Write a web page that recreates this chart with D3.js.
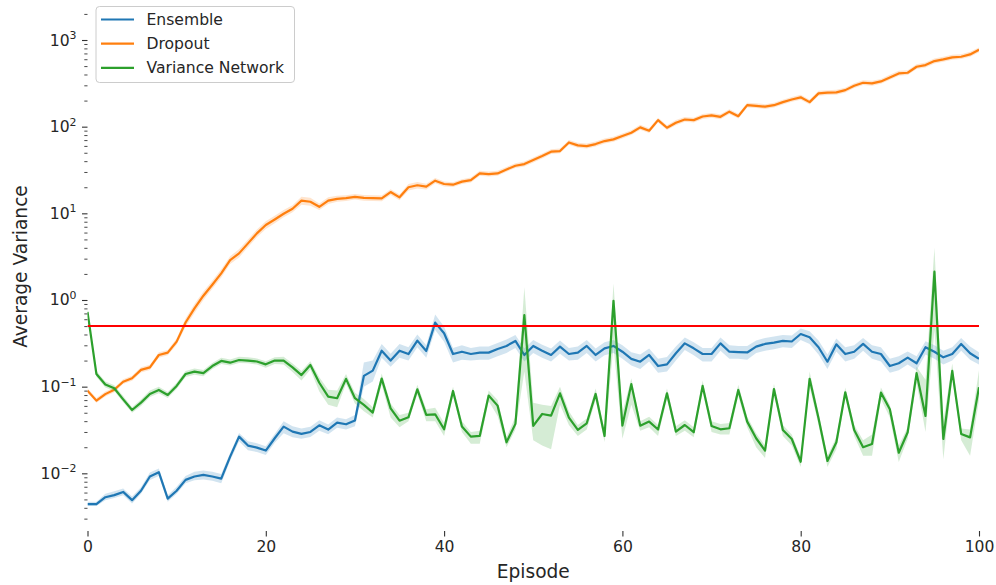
<!DOCTYPE html>
<html>
<head>
<meta charset="utf-8">
<script src="https://cdn.jsdelivr.net/npm/d3@7"></script>
<style>
  body { margin: 0; background: #fff; }
  svg { font-family: "DejaVu Sans", sans-serif; }
</style>
</head>
<body>
<div class="chart"></div>
<script>
// episodes 0..100
var episodes = d3.range(0, 101);

var ensemble = [0.0044,0.0044,0.0053,0.0056,0.0061,0.0049,0.0063,0.0092,0.0103,0.0051,
  0.0063,0.0084,0.0092,0.0096,0.0092,0.0087,0.0156,0.0265,0.0209,0.0198,
  0.0183,0.0254,0.0346,0.0303,0.0285,0.0300,0.0358,0.0320,0.0385,0.0368,
  0.0406,0.133,0.153,0.260,0.200,0.260,0.238,0.340,0.258,0.548,
  0.413,0.238,0.253,0.238,0.247,0.247,0.272,0.295,0.337,0.232,
  0.295,0.260,0.232,0.290,0.238,0.247,0.295,0.232,0.277,0.295,
  0.253,0.209,0.194,0.232,0.173,0.181,0.243,0.316,0.277,0.238,
  0.238,0.316,0.253,0.250,0.248,0.290,0.311,0.322,0.337,0.332,
  0.405,0.371,0.285,0.194,0.308,0.238,0.253,0.311,0.253,0.238,
  0.173,0.186,0.216,0.186,0.285,0.253,0.218,0.238,0.311,0.243,
  0.210];
var ensembleLo = [0.0042,0.0042,0.0049,0.0052,0.0056,0.0045,0.0058,0.0084,0.0093,0.0047,
  0.0058,0.0077,0.0083,0.0085,0.0082,0.0077,0.0140,0.0235,0.0185,0.0176,
  0.0163,0.0225,0.0290,0.0260,0.0250,0.0262,0.0310,0.0282,0.0335,0.0320,
  0.0350,0.100,0.115,0.215,0.170,0.215,0.200,0.285,0.215,0.450,
  0.330,0.190,0.205,0.200,0.205,0.205,0.225,0.245,0.280,0.195,
  0.245,0.215,0.195,0.240,0.200,0.205,0.245,0.195,0.230,0.245,
  0.210,0.175,0.160,0.195,0.145,0.150,0.200,0.265,0.230,0.195,
  0.195,0.260,0.210,0.210,0.205,0.245,0.260,0.270,0.285,0.280,
  0.345,0.310,0.235,0.160,0.255,0.195,0.210,0.260,0.210,0.195,
  0.145,0.155,0.180,0.155,0.235,0.210,0.180,0.200,0.260,0.205,
  0.180];
var ensembleHi = [0.0047,0.0047,0.0058,0.0062,0.0067,0.0054,0.0069,0.0102,0.0114,0.0056,
  0.0070,0.0093,0.0104,0.0108,0.0104,0.0098,0.0172,0.0292,0.0235,0.0222,
  0.0205,0.0285,0.0400,0.0350,0.0330,0.0345,0.0410,0.0365,0.0440,0.0420,
  0.0470,0.190,0.200,0.310,0.240,0.310,0.285,0.400,0.300,0.680,
  0.490,0.280,0.300,0.280,0.290,0.290,0.320,0.350,0.395,0.275,
  0.345,0.305,0.275,0.340,0.280,0.290,0.345,0.275,0.325,0.345,
  0.300,0.250,0.235,0.275,0.210,0.220,0.290,0.370,0.325,0.280,
  0.280,0.370,0.300,0.295,0.295,0.340,0.365,0.380,0.395,0.390,
  0.470,0.435,0.340,0.235,0.360,0.285,0.300,0.365,0.300,0.285,
  0.210,0.225,0.255,0.225,0.335,0.300,0.260,0.285,0.365,0.290,
  0.250];

var dropout = [0.090,0.069,0.082,0.092,0.114,0.125,0.156,0.167,0.232,0.247,
  0.331,0.55,0.80,1.12,1.50,2.03,2.89,3.45,4.5,5.87,
  7.33,8.5,9.9,11.3,14.0,13.6,11.9,14.0,14.7,15.0,
  15.5,15.1,15.0,14.9,17.6,15.3,20.0,21.1,20.3,23.8,
  21.8,21.4,23.2,24.2,28.9,28.4,28.9,32.1,35.4,37.0,
  41.2,45.8,51.4,52.3,65.8,60.8,59.7,63.0,68.2,71.3,
  77.9,85.1,98.1,89.8,119,97.2,111,121,119,131,
  135,130,149,132,177,174,170,177,192,206,
  218,192,242,247,249,264,297,321,316,333,
  370,412,419,491,514,571,597,630,641,682,
  770];
var dropoutLo = [0.085,0.065,0.077,0.086,0.107,0.117,0.146,0.156,0.215,0.230,
  0.305,0.49,0.71,1.0,1.35,1.82,2.6,3.1,4.05,5.3,
  6.6,7.7,9.0,10.3,12.6,12.2,10.9,12.8,13.6,13.9,
  14.4,14.0,13.9,13.8,16.3,14.2,18.3,19.4,18.8,22.2,
  20.4,20.1,21.8,22.7,27.1,26.6,27.1,30.2,33.3,34.8,
  38.7,43.0,48.3,49.2,61.9,57.2,56.1,59.2,64.1,67.0,
  73.2,80.0,92.2,84.4,112,91.4,104,114,112,123,
  127,122,140,124,166,164,160,166,180,194,
  205,180,227,232,234,248,279,302,297,313,
  348,387,394,462,483,537,561,592,603,641,
  724];
var dropoutHi = [0.096,0.074,0.088,0.098,0.122,0.134,0.167,0.179,0.250,0.265,
  0.36,0.61,0.90,1.25,1.67,2.26,3.2,3.85,5.0,6.5,
  8.1,9.4,10.9,12.4,15.5,15.1,13.0,15.3,16.0,16.2,
  16.7,16.3,16.2,16.1,19.0,16.5,21.8,23.0,21.9,25.5,
  23.3,22.9,24.8,25.9,30.9,30.4,30.9,34.3,37.9,39.6,
  44.1,49.0,55.0,56.0,70.4,65.1,63.9,67.4,73.0,76.3,
  83.4,91.1,105,96.1,127,104,119,129,127,140,
  144,139,159,141,189,186,182,189,205,220,
  233,205,259,264,266,282,318,343,338,356,
  396,441,448,525,550,611,639,674,686,730,
  820];

var varNet = [0.73,0.140,0.106,0.096,0.0714,0.0538,0.0654,0.0824,0.0916,0.0802,
  0.102,0.140,0.149,0.143,0.173,0.198,0.189,0.203,0.200,0.195,
  0.181,0.200,0.200,0.167,0.136,0.178,0.111,0.0767,0.0735,0.123,
  0.0735,0.0615,0.0502,0.124,0.0562,0.0405,0.0443,0.0933,0.0472,0.048,
  0.0322,0.0892,0.0346,0.0265,0.027,0.0789,0.0604,0.0228,0.0372,0.671,
  0.0352,0.0484,0.0463,0.0838,0.0439,0.0317,0.0378,0.0824,0.027,0.98,
  0.0355,0.107,0.0355,0.0395,0.032,0.0839,0.0303,0.0361,0.0298,0.102,
  0.0352,0.0322,0.0331,0.0916,0.0395,0.0254,0.0183,0.094,0.0317,0.0249,
  0.0136,0.123,0.0432,0.0139,0.0228,0.0861,0.0317,0.020,0.0218,0.0853,
  0.0548,0.0173,0.0298,0.143,0.0459,2.12,0.0249,0.152,0.0285,0.026,
  0.0984];
var varNetLo = [0.68,0.13,0.098,0.089,0.066,0.050,0.060,0.076,0.084,0.074,
  0.094,0.129,0.137,0.132,0.160,0.183,0.175,0.188,0.186,0.180,
  0.165,0.183,0.180,0.148,0.118,0.158,0.088,0.062,0.058,0.108,
  0.064,0.052,0.044,0.106,0.044,0.034,0.040,0.082,0.040,0.040,
  0.027,0.078,0.030,0.022,0.022,0.068,0.046,0.020,0.032,0.15,
  0.024,0.021,0.019,0.062,0.036,0.027,0.032,0.070,0.023,0.30,
  0.025,0.062,0.031,0.034,0.027,0.072,0.027,0.031,0.026,0.088,
  0.030,0.028,0.028,0.078,0.034,0.020,0.015,0.080,0.027,0.021,
  0.0118,0.100,0.036,0.0118,0.019,0.074,0.027,0.016,0.016,0.072,
  0.044,0.0135,0.025,0.110,0.030,0.45,0.0145,0.125,0.024,0.016,
  0.070];
var varNetHi = [0.80,0.152,0.115,0.104,0.078,0.058,0.071,0.090,0.100,0.087,
  0.111,0.152,0.162,0.156,0.188,0.215,0.206,0.221,0.218,0.212,
  0.197,0.218,0.222,0.185,0.152,0.196,0.128,0.092,0.090,0.140,
  0.085,0.072,0.058,0.142,0.064,0.047,0.050,0.105,0.055,0.057,
  0.038,0.100,0.040,0.030,0.031,0.090,0.070,0.026,0.045,1.40,
  0.065,0.062,0.060,0.100,0.052,0.036,0.043,0.095,0.031,1.55,
  0.050,0.125,0.040,0.045,0.036,0.095,0.035,0.041,0.034,0.118,
  0.040,0.037,0.038,0.105,0.045,0.029,0.021,0.108,0.036,0.028,
  0.0155,0.150,0.050,0.016,0.026,0.098,0.036,0.024,0.028,0.098,
  0.062,0.021,0.034,0.170,0.120,4.00,0.040,0.185,0.033,0.032,
  0.155];

var threshold = 0.5;
var seriesNames = ["Ensemble", "Dropout", "Variance Network"];
var xTicks = [0, 20, 40, 60, 80, 100];
var yExponents = [-2, -1, 0, 1, 2, 3];

var svgWidth = 996;
var svgHeight = 585;
var plot = {left: 87.5, right: 979, top: 2, bottom: 531};
var colors = ["#1f77b4", "#ff7f0e", "#2ca02c"];
var textColor = "#262626";

var series = [
  {name: seriesNames[0], mean: ensemble, lo: ensembleLo, hi: ensembleHi, color: colors[0]},
  {name: seriesNames[1], mean: dropout, lo: dropoutLo, hi: dropoutHi, color: colors[1]},
  {name: seriesNames[2], mean: varNet, lo: varNetLo, hi: varNetHi, color: colors[2]}
];

var svg = d3.select(".chart")
  .append("svg")
  .attr("width", svgWidth)
  .attr("height", svgHeight);

var x = d3.scaleLinear().domain([0, 100]).range([plot.left, plot.right]);
var y = d3.scaleLog().domain([0.00216, 2745]).range([plot.bottom, plot.top]);

svg.append("clipPath")
  .attr("id", "plotClip")
  .append("rect")
  .attr("x", plot.left)
  .attr("y", plot.top)
  .attr("width", plot.right - plot.left)
  .attr("height", plot.bottom - plot.top);

var chart = svg.append("g").attr("clip-path", "url(#plotClip)");

series.forEach(function(s) {
  var band = d3.area()
    .x(function(d, i) { return x(episodes[i]); })
    .y0(function(d, i) { return y(s.lo[i]); })
    .y1(function(d, i) { return y(s.hi[i]); });

  var line = d3.line()
    .x(function(d, i) { return x(episodes[i]); })
    .y(function(d) { return y(d); });

  chart.append("path")
    .datum(s.mean)
    .attr("d", band)
    .attr("fill", s.color)
    .attr("fill-opacity", 0.2)
    .attr("stroke", "none");

  chart.append("path")
    .datum(s.mean)
    .attr("d", line)
    .attr("fill", "none")
    .attr("stroke", s.color)
    .attr("stroke-width", 2.2)
    .attr("stroke-linejoin", "round");
});

// threshold line
chart.append("line")
  .attr("x1", x(0))
  .attr("x2", x(100))
  .attr("y1", y(threshold))
  .attr("y2", y(threshold))
  .attr("stroke", "#ff0000")
  .attr("stroke-width", 2);

// x axis
var xAxis = d3.axisBottom(x)
  .tickValues(xTicks)
  .tickSize(5.5)
  .tickPadding(4);

var gx = svg.append("g")
  .attr("transform", "translate(0," + plot.bottom + ")")
  .call(xAxis);
gx.select(".domain").remove();
gx.selectAll("line").attr("stroke", "#333").attr("stroke-width", 1.1);
gx.selectAll("text")
  .attr("fill", textColor)
  .style("font-size", "15.6px")
  .style("font-family", "DejaVu Sans");

// y axis, minor ticks
var minorTicks = [];
for (var e = -3; e <= 3; e++) {
  for (var k = 2; k <= 9; k++) {
    var v = k * Math.pow(10, e);
    if (v >= y.domain()[0] && v <= y.domain()[1]) minorTicks.push(v);
  }
}

var gyMinor = svg.append("g")
  .attr("transform", "translate(" + plot.left + ",0)")
  .call(d3.axisLeft(y).tickValues(minorTicks).tickSize(3.2).tickFormat(""));
gyMinor.select(".domain").remove();
gyMinor.selectAll("line").attr("stroke", "#333").attr("stroke-width", 0.9);

// y axis, major ticks with 10^n labels
var gy = svg.append("g")
  .attr("transform", "translate(" + plot.left + ",0)")
  .call(d3.axisLeft(y)
    .tickValues(yExponents.map(function(p) { return Math.pow(10, p); }))
    .tickSize(5.5)
    .tickPadding(5.5)
    .tickFormat(function() { return "10"; }));
gy.select(".domain").remove();
gy.selectAll("line").attr("stroke", "#333").attr("stroke-width", 1.1);
gy.selectAll("text")
  .attr("fill", textColor)
  .style("font-size", "15.6px")
  .style("font-family", "DejaVu Sans")
  .each(function(d) {
    var p = Math.round(Math.log10(d));
    d3.select(this).append("tspan")
      .attr("dy", "-6.5px")
      .style("font-size", "10.9px")
      .text(String(p).replace("-", "\u2212"));
  });

// axis labels
svg.append("text")
  .attr("x", (plot.left + plot.right) / 2)
  .attr("y", 578)
  .attr("text-anchor", "middle")
  .attr("fill", textColor)
  .style("font-size", "18.6px")
  .text("Episode");

svg.append("text")
  .attr("transform", "translate(26.5," + ((plot.top + plot.bottom) / 2) + ") rotate(-90)")
  .attr("text-anchor", "middle")
  .attr("fill", textColor)
  .style("font-size", "18.6px")
  .text("Average Variance");

// legend
var legend = svg.append("g").attr("transform", "translate(96,6.5)");
legend.append("rect")
  .attr("width", 198.5)
  .attr("height", 76)
  .attr("rx", 3.5)
  .attr("fill", "#fff")
  .attr("fill-opacity", 0.8)
  .attr("stroke", "#cccccc")
  .attr("stroke-width", 1);

series.forEach(function(s, i) {
  var ly = 13 + i * 24.2;
  legend.append("line")
    .attr("x1", 5)
    .attr("x2", 38)
    .attr("y1", ly)
    .attr("y2", ly)
    .attr("stroke", s.color)
    .attr("stroke-width", 2.2);
  legend.append("text")
    .attr("x", 50.5)
    .attr("y", ly)
    .attr("dy", "0.35em")
    .attr("fill", textColor)
    .style("font-size", "15.6px")
    .text(s.name);
});
</script>
</body>
</html>
